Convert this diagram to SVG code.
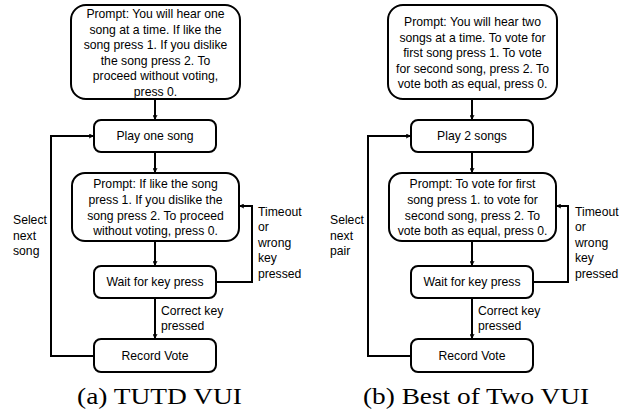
<svg xmlns="http://www.w3.org/2000/svg" width="633" height="410" viewBox="0 0 633 410">
<style>
.box{fill:#fff;stroke:#000;stroke-width:2}
.t{font-family:"Liberation Sans",Arial,sans-serif;font-size:12.2px;fill:#000;text-anchor:middle;dominant-baseline:central}
.l{font-family:"Liberation Sans",Arial,sans-serif;font-size:12.2px;fill:#000;dominant-baseline:central}
.c{font-family:"Liberation Serif","Times New Roman",serif;font-size:24px;fill:#000;text-anchor:middle}
.e{fill:none;stroke:#000;stroke-width:2}
</style>
<defs>
<marker id="ah" viewBox="0 0 10 10" refX="9" refY="5" markerWidth="5" markerHeight="5" orient="auto" markerUnits="userSpaceOnUse">
<path d="M1,1 L9,5 L1,9" fill="none" stroke="#000" stroke-width="2"/>
</marker>
</defs>
<rect width="633" height="410" fill="#fff"/>
<g id="connectors">
<path class="e" d="M155,99 V119" marker-end="url(#ah)"/>
<path class="e" d="M155,152 V172" marker-end="url(#ah)"/>
<path class="e" d="M155,241 V265" marker-end="url(#ah)"/>
<path class="e" d="M155,298 V338" marker-end="url(#ah)"/>
<path class="e" d="M216,282 H252 V206 H240" marker-end="url(#ah)"/>
<path class="e" d="M94,356 H51 V136 H93" marker-end="url(#ah)"/>
<path class="e" d="M472,99 V119" marker-end="url(#ah)"/>
<path class="e" d="M472,152 V172" marker-end="url(#ah)"/>
<path class="e" d="M472,241 V265" marker-end="url(#ah)"/>
<path class="e" d="M472,298 V338" marker-end="url(#ah)"/>
<path class="e" d="M533,282 H568 V206 H557" marker-end="url(#ah)"/>
<path class="e" d="M411,356 H368 V136 H410" marker-end="url(#ah)"/>
<text class="l" x="161" y="311">Correct key</text>
<text class="l" x="161" y="326">pressed</text>
<text class="l" x="258" y="212">Timeout</text>
<text class="l" x="258" y="227">or</text>
<text class="l" x="258" y="243">wrong</text>
<text class="l" x="258" y="258">key</text>
<text class="l" x="258" y="274">pressed</text>
<text class="l" x="13" y="220">Select</text>
<text class="l" x="13" y="236">next</text>
<text class="l" x="13" y="251">song</text>
<text class="l" x="478" y="311">Correct key</text>
<text class="l" x="478" y="326">pressed</text>
<text class="l" x="575" y="212">Timeout</text>
<text class="l" x="575" y="227">or</text>
<text class="l" x="575" y="243">wrong</text>
<text class="l" x="575" y="258">key</text>
<text class="l" x="575" y="274">pressed</text>
<text class="l" x="330" y="220">Select</text>
<text class="l" x="330" y="236">next</text>
<text class="l" x="330" y="251">pair</text>
</g>
<g id="a-prompt1">
<rect class="box" x="71" y="5" width="169" height="94" rx="15"/>
<text class="t" x="155.5" y="14">Prompt: You will hear one</text>
<text class="t" x="155.5" y="29.5">song at a time. If like the</text>
<text class="t" x="155.5" y="45">song press 1. If you dislike</text>
<text class="t" x="155.5" y="60.5">the song press 2. To</text>
<text class="t" x="155.5" y="76">proceed without voting,</text>
<text class="t" x="155.5" y="91.5">press 0.</text>
</g>
<g id="a-play">
<rect class="box" x="94" y="120" width="122" height="32" rx="7"/>
<text class="t" x="155" y="136">Play one song</text>
</g>
<g id="a-prompt2">
<rect class="box" x="72" y="173" width="167" height="68" rx="13"/>
<text class="t" x="155.5" y="184">Prompt: If like the song</text>
<text class="t" x="155.5" y="200">press 1. If you dislike the</text>
<text class="t" x="155.5" y="215.5">song press 2. To proceed</text>
<text class="t" x="155.5" y="231">without voting, press 0.</text>
</g>
<g id="a-wait">
<rect class="box" x="94" y="266" width="122" height="32" rx="7"/>
<text class="t" x="155" y="282">Wait for key press</text>
</g>
<g id="a-record">
<rect class="box" x="94" y="339" width="122" height="33" rx="7"/>
<text class="t" x="155" y="356">Record Vote</text>
</g>
<g id="b-prompt1">
<rect class="box" x="388" y="5" width="169" height="94" rx="15"/>
<text class="t" x="472.5" y="22">Prompt: You will hear two</text>
<text class="t" x="472.5" y="37.5">songs at a time. To vote for</text>
<text class="t" x="472.5" y="53">first song press 1. To vote</text>
<text class="t" x="472.5" y="68.5">for second song, press 2. To</text>
<text class="t" x="472.5" y="84">vote both as equal, press 0.</text>
</g>
<g id="b-play">
<rect class="box" x="411" y="120" width="122" height="32" rx="7"/>
<text class="t" x="472" y="136">Play 2 songs</text>
</g>
<g id="b-prompt2">
<rect class="box" x="389" y="173" width="167" height="68" rx="13"/>
<text class="t" x="472.5" y="184">Prompt: To vote for first</text>
<text class="t" x="472.5" y="200">song press 1. to vote for</text>
<text class="t" x="472.5" y="215.5">second song, press 2. To</text>
<text class="t" x="472.5" y="231">vote both as equal, press 0.</text>
</g>
<g id="b-wait">
<rect class="box" x="411" y="266" width="122" height="32" rx="7"/>
<text class="t" x="472" y="282">Wait for key press</text>
</g>
<g id="b-record">
<rect class="box" x="411" y="339" width="122" height="33" rx="7"/>
<text class="t" x="472" y="356">Record Vote</text>
</g>
<g id="captions">
<text class="c" x="159.5" y="404" textLength="165" lengthAdjust="spacingAndGlyphs">(a) TUTD VUI</text>
<text class="c" x="476" y="404" textLength="226" lengthAdjust="spacingAndGlyphs">(b) Best of Two VUI</text>
</g>
</svg>
